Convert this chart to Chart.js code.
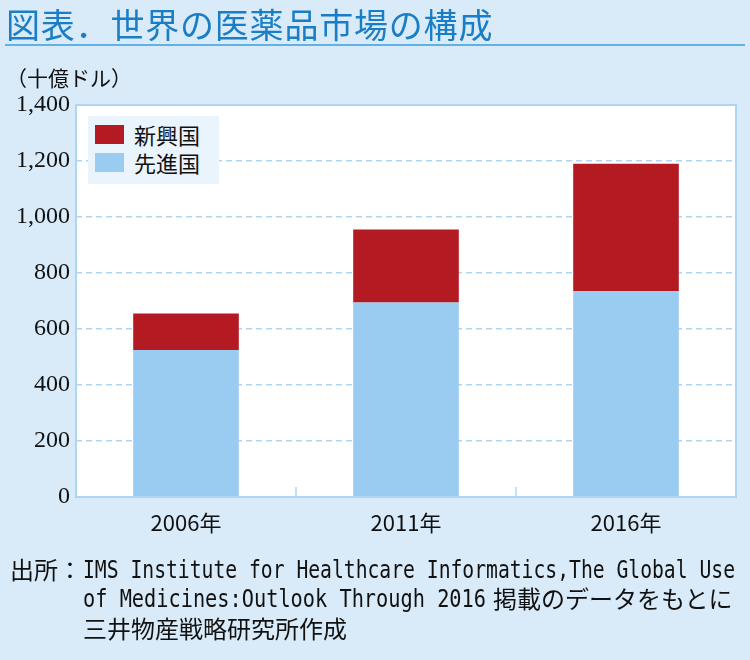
<!DOCTYPE html>
<html lang="ja">
<head>
<meta charset="utf-8">
<script src="https://cdn.jsdelivr.net/npm/chart.js@4.4.1/dist/chart.umd.min.js"></script>
<style>
  html, body { margin: 0; padding: 0; }
  body {
    width: 750px; height: 660px; position: relative; overflow: hidden;
    background: #d9eaf8;
    font-family: "Noto Sans CJK JP", "Noto Sans", sans-serif;
    color: #111;
  }
  #chart { position: absolute; left: 0; top: 0; }
  .txt { position: absolute; white-space: nowrap; line-height: 1; transform-origin: left center; }
  #title { left: 6px; top: 7px; font-size: 34px; color: #1a7ec6; letter-spacing: 0.8px; font-weight: 400; }
  #rule { position: absolute; left: 5px; right: 5px; top: 44px; height: 2px; background: #62b1e6; }
  #unit { left: 6px; top: 69px; font-size: 21px; font-family: "Liberation Serif", "Noto Sans CJK JP", serif; }
  #legend {
    position: absolute; left: 88px; top: 116px; width: 131px; height: 68px;
    background: #eaf4fd;
  }
  .item { position: absolute; left: 7px; height: 20px; font-size: 22px; line-height: 20px; }
  .item i { position: absolute; left: 0; top: 0; width: 29px; height: 19px; }
  .item span { position: absolute; left: 39px; top: -1px; white-space: nowrap; }
  .note { font-size: 24px; }
  .mono { font-family: "DejaVu Sans Mono", "Liberation Mono", monospace; font-size: 25px; }
</style>
</head>
<body>
<canvas id="chart" width="750" height="660"></canvas>
<div id="title" class="txt">図表．世界の医薬品市場の構成</div>
<div id="rule"></div>
<div id="unit" class="txt">（十億ドル）</div>
<div id="legend"></div>

<div class="txt note" style="left:10px;top:557px;">出所：</div>
<div class="txt mono fit" data-w="652" style="left:83px;top:557px;">IMS Institute for Healthcare Informatics,The Global Use</div>
<div class="txt mono fit" data-w="403" style="left:83px;top:586px;">of Medicines:Outlook Through 2016</div>
<div class="txt note" style="left:493px;top:586px;">掲載のデータをもとに</div>
<div class="txt note" style="left:83px;top:616px;">三井物産戦略研究所作成</div>

<script>
// data
const categories = ['2006年', '2011年', '2016年'];
const developed = [525, 695, 735];   // 先進国
const emerging = [130, 260, 455];    // 新興国
const yTicks = [0, 200, 400, 600, 800, 1000, 1200, 1400];

const blue = '#9acbf1';
const red = '#b31a22';
const lineBlue = '#aed6f3';

// squeeze the monospace lines to their widths
document.querySelectorAll('.fit').forEach(el => {
    const w = el.getBoundingClientRect().width;
    el.style.transform = 'scaleX(' + (Number(el.dataset.w) / w) + ')';
});

// legend (red on top like the picture)
const legend = document.getElementById('legend');
[['新興国', red, 9], ['先進国', blue, 37]].forEach(([name, color, top]) => {
    const div = document.createElement('div');
    div.className = 'item';
    div.style.top = top + 'px';
    div.innerHTML = '<i style="background:' + color + '"></i><span>' + name + '</span>';
    legend.appendChild(div);
});

// white plot area, border and small ticks between categories
const plotFrame = {
    id: 'plotFrame',
    beforeDraw(chart) {
        const a = chart.chartArea, ctx = chart.ctx;
        ctx.save();
        ctx.fillStyle = '#fff';
        ctx.fillRect(a.left, a.top, a.right - a.left, a.bottom - a.top);
        ctx.restore();
    },
    afterDatasetsDraw(chart) {
        const a = chart.chartArea, ctx = chart.ctx, x = chart.scales.x;
        ctx.save();
        ctx.strokeStyle = lineBlue;
        ctx.lineWidth = 2;
        ctx.strokeRect(a.left, a.top, a.right - a.left, a.bottom - a.top);
        ctx.lineWidth = 1.5;
        for (let i = 0; i < categories.length - 1; i++) {
            const px = (x.getPixelForValue(i) + x.getPixelForValue(i + 1)) / 2;
            ctx.beginPath();
            ctx.moveTo(px, a.bottom);
            ctx.lineTo(px, a.bottom - 10);
            ctx.stroke();
        }
        ctx.restore();
    }
};

new Chart(document.getElementById('chart'), {
    type: 'bar',
    data: {
        labels: categories,
        datasets: [
            { label: '先進国', data: developed, backgroundColor: blue },
            { label: '新興国', data: emerging, backgroundColor: red }
        ]
    },
    options: {
        responsive: false,
        animation: false,
        layout: { padding: { top: 105, right: 14, left: 0, bottom: 0 } },
        datasets: { bar: { categoryPercentage: 1, barPercentage: 0.48 } },
        plugins: { legend: { display: false }, tooltip: { enabled: false } },
        scales: {
            x: {
                stacked: true,
                grid: { display: false, drawTicks: false },
                border: { display: false },
                ticks: {
                    padding: 12,
                    color: '#111',
                    font: { family: '"Noto Sans CJK JP", sans-serif', size: 22 }
                },
                afterFit(scale) { scale.height = 163; }
            },
            y: {
                stacked: true,
                min: 0,
                max: 1400,
                grid: { color: lineBlue, lineWidth: 1.5, drawTicks: false },
                border: { display: false, dash: [6, 4] },
                afterBuildTicks(scale) { scale.ticks = yTicks.map(v => ({ value: v })); },
                ticks: {
                    padding: 6,
                    color: '#111',
                    font: { family: '"Liberation Serif", serif', size: 24 },
                    callback: v => v.toLocaleString('en-US')
                },
                afterFit(scale) { scale.width = 76; }
            }
        }
    },
    plugins: [plotFrame]
});
</script>
</body>
</html>
